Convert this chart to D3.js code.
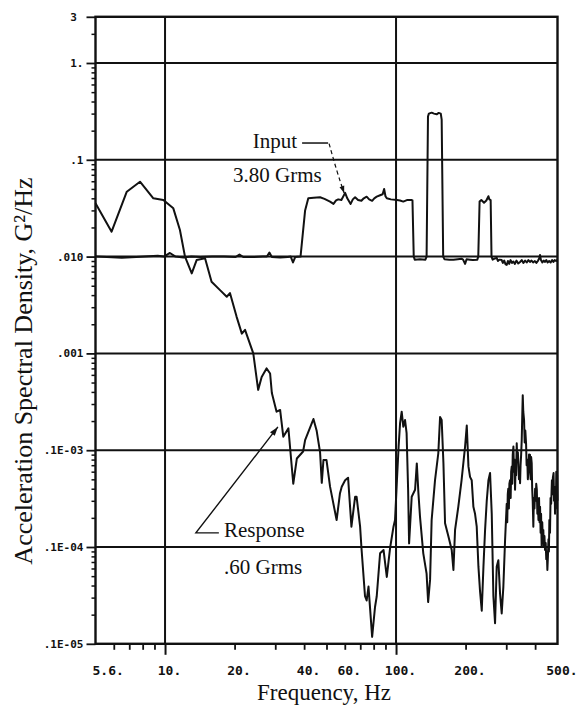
<!DOCTYPE html>
<html><head><meta charset="utf-8">
<script src="https://cdn.jsdelivr.net/npm/d3@7"></script>
<style>body{margin:0;background:#fff}svg{display:block}</style>
</head><body>
<svg id="chart" width="577" height="721"></svg>
<script>
// ---------- data ----------
const xMajorTicks = [5, 10, 20, 40, 60, 100, 200, 500];
const xTickLabels = ["5.6.", "10.", "20.", "40.", "60.", "100.", "200.", "500."];
const xMinorTicks = [6, 7, 8, 9, 20, 30, 40, 50, 60, 70, 80, 90, 200, 300, 400];
const xGridValues = [10, 100];
const yTicks = [3, 1, 0.1, 0.01, 0.001, 1e-4, 1e-5, 1e-6];
const yTickLabels = ["3\u00a0", "1.", ".1", ".010", ".001", ".1E-03", ".1E-04", ".1E-05"];
const yGridValues = [1, 0.1, 0.01, 0.001, 1e-4, 1e-5];
const xTitle = "Frequency, Hz";
const yTitle = "Acceleration Spectral Density, G\u00b2/Hz";

// Input (control) spectrum: [frequency Hz, PSD G^2/Hz]
const inputSeries = [
[5.0,0.0100],[5.6,0.0099],[6.5,0.0097],[7.5,0.0099],[8.5,0.0101],[9.3,0.0102],[9.9,0.0100],[10.5,0.0109],[11.1,0.0100],
[12.0,0.0098],[13.0,0.0100],[14.2,0.0099],[16.0,0.0100],[18.0,0.0100],[20.2,0.0099],[21.0,0.0105],[21.8,0.0099],[24.0,0.0099],
[26.5,0.0100],[27.6,0.0100],[28.3,0.0110],[29.0,0.0099],[31.5,0.0098],[34.0,0.0099],[35.0,0.0100],[35.8,0.0087],[36.6,0.0099],
[38.6,0.0100],[40.4,0.0300],[41.7,0.0400],[44.0,0.0405],[46.9,0.0410],[49.0,0.0395],[51.8,0.0370],[53.6,0.0350],[55.0,0.0380],
[56.2,0.0390],[58.0,0.0385],[60.2,0.0455],[61.5,0.0400],[63.6,0.0350],[65.0,0.0390],[66.5,0.0410],[68.5,0.0385],[70.8,0.0377],
[72.5,0.0400],[74.6,0.0416],[76.5,0.0390],[78.8,0.0377],[80.5,0.0400],[82.5,0.0416],[85.3,0.0430],[87.5,0.0440],[88.8,0.0500],
[90.0,0.0420],[91.2,0.0400],[95.0,0.0390],[100.9,0.0384],[104.0,0.0380],[107.5,0.0370],[112.0,0.0385],[116.9,0.0384],[117.8,0.0380],
[119.3,0.0100],[120.5,0.0093],[127.0,0.0094],[134.0,0.0093],[135.6,0.0100],[137.5,0.2800],[138.7,0.3000],[142.6,0.3070],[146.0,0.3000],
[149.9,0.2950],[153.0,0.3050],[156.2,0.3000],[157.6,0.2600],[160.0,0.0100],[162.0,0.0094],[170.0,0.0093],[177.2,0.0093],[185.0,0.0094],
[192.0,0.0095],[195.1,0.0093],[199.0,0.0084],[202.0,0.0094],[209.1,0.0093],[215.0,0.0092],[224.8,0.0093],[227.0,0.0100],[230.0,0.0370],
[234.0,0.0384],[240.4,0.0360],[246.0,0.0380],[251.2,0.0420],[253.5,0.0390],[256.8,0.0384],[259.0,0.0100],[262.0,0.0093],[266.0,0.0095],
[272.8,0.0097],[276.0,0.0090],[280.0,0.0093],[286.7,0.0092],[290.0,0.0086],[294.0,0.0091],[298.0,0.0083],[301.4,0.0082],[305.0,0.0090],
[309.0,0.0084],[313.0,0.0092],[318.0,0.0086],[322.2,0.0089],[327.0,0.0084],[332.0,0.0091],[338.0,0.0085],[344.3,0.0088],[350.0,0.0092],
[356.0,0.0086],[362.0,0.0091],[368.0,0.0087],[374.0,0.0092],[380.0,0.0088],[386.0,0.0091],[392.0,0.0087],[399.0,0.0090],[405.0,0.0086],
[412.0,0.0091],[417.0,0.0096],[420.0,0.0104],[424.0,0.0092],[430.0,0.0087],[436.0,0.0091],[441.0,0.0088],[447.0,0.0092],[453.0,0.0087],
[460.0,0.0090],[467.0,0.0087],[474.0,0.0092],[480.0,0.0088],[486.0,0.0092],[493.0,0.0090],[500.0,0.0093]
];

// Response spectrum: [frequency Hz, PSD G^2/Hz]
const responseSeries = [
[5.0,0.0355],[5.87,0.0181],[6.83,0.0468],[7.79,0.0594],[8.9,0.040],[9.83,0.0384],[10.86,0.0315],[11.6,0.0188],[12.2,0.0100],
[13.05,0.0067],[13.7,0.0092],[14.9,0.0096],[15.9,0.0055],[17.3,0.0045],[18.5,0.00385],[19.1,0.0042],[20.4,0.0024],[21.5,0.0016],
[22.2,0.00175],[24.1,0.0010],[25.3,0.00042],[26.2,0.00057],[27.5,0.00070],[28.5,0.00062],[29.0,0.00039],[30.4,0.00025],[31.5,0.00026],
[32.5,0.000138],[34.2,0.000168],[35.9,0.000045],[37.2,0.000082],[39.6,0.000097],[40.4,0.000127],[43.2,0.00019],[43.9,0.00021],
[45.3,0.00016],[46.9,0.000095],[47.7,0.000046],[48.5,0.000079],[50.0,0.000079],[51.8,0.000042],[55.3,0.000019],[57.2,0.000036],
[58.2,0.000042],[60.2,0.000049],[62.0,0.000052],[64.1,0.0000162],[66.5,0.000033],[67.5,0.000033],[69.9,0.0000162],[70.8,0.000010],
[73.4,0.0000031],[74.6,0.0000028],[76.0,0.0000039],[78.8,0.00000118],[81.1,0.0000024],[82.5,0.0000031],[85.3,0.0000086],
[88.3,0.0000093],[91.2,0.0000049],[94.2,0.0000097],[97.5,0.0000162],[99.0,0.000019],[100.9,0.000049],[102.6,0.000109],[104.1,0.00019],
[105.8,0.00025],[107.5,0.000175],[109.4,0.000205],[111.1,0.00015],[112.8,0.000039],[113.9,0.0000109],[116.9,0.000033],[120.9,0.000039],
[123.0,0.000073],[125.0,0.000036],[127.0,0.0000205],[131.2,0.0000086],[135.6,0.0000053],[137.7,0.0000027],[140.4,0.0000046],
[142.6,0.000019],[147.5,0.000049],[152.4,0.000093],[155.1,0.00022],[157.6,0.000205],[160.4,0.000073],[163.0,0.0000176],
[168.6,0.0000128],[174.2,0.0000093],[177.2,0.0000058],[180.1,0.000015],[186.0,0.000026],[192.2,0.000049],[199.0,0.000109],
[202.4,0.00018],[205.8,0.000068],[209.1,0.000053],[212.6,0.000049],[216.2,0.000026],[219.8,0.000022],[223.5,0.0000162],
[227.3,0.0000063],[231.0,0.0000035],[235.0,0.0000022],[239.0,0.0000063],[242.9,0.000015],[247.0,0.000030],[251.2,0.000049],
[255.3,0.000058],[259.6,0.000022],[263.9,0.0000031],[268.3,0.00000163],[272.8,0.0000063],[277.3,0.0000073],[282.0,0.0000033],
[286.7,0.00000206],[291.5,0.0000039],[296.5,0.0000118],[301.4,0.000028],[303,0.000018],[304.5,0.000035],[306,0.000040],[308,0.000025],
[309.5,0.000045],[311.6,0.000049],[313.5,0.000032],[315,0.000060],[316.9,0.000068],[318.5,0.000045],[320,0.00009],[322.2,0.000109],
[324,0.00006],[325.5,0.000080],[327.5,0.000039],[329.5,0.00007],[331,0.000055],[333.0,0.000118],[335,0.00008],[336.8,0.000095],
[338.6,0.000073],[340.5,0.00005],[342.3,0.000065],[344.3,0.0000455],[346,0.00007],[348,0.00009],[350.0,0.000127],[351.8,0.00022],
[353.6,0.00037],[355.5,0.00025],[358.3,0.000205],[360.5,0.00012],[362.8,0.00016],[365.5,0.000118],[367.5,0.00007],[370,0.00008],
[372,0.00005],[374.0,0.000058],[376.5,0.00009],[378.5,0.00006],[380,0.00009],[382.5,0.00005],[384.5,0.000085],[386.7,0.000073],
[388.5,0.00004],[390.5,0.00003],[393.0,0.0000162],[395,0.000032],[397.5,0.000025],[400,0.00004],[402.5,0.00003],[404.5,0.000045],
[406.9,0.000039],[409,0.000022],[411,0.00003],[413.5,0.000019],[416,0.000032],[418,0.000018],[420.2,0.000026],[422.5,0.000014],
[424.5,0.000022],[427.0,0.000010],[429.5,0.000018],[431.8,0.000012],[434.1,0.000015],[436.5,0.00001],[439,0.000013],[441.6,0.0000093],
[444.5,0.000011],[447,0.0000075],[449.5,0.000009],[452.0,0.0000058],[454.5,0.000008],[457,0.000012],[459,0.000009],[461.0,0.000019],
[464,0.000014],[466.5,0.000032],[469.5,0.000028],[472.9,0.000049],[475,0.000035],[477.5,0.000052],[480.8,0.000058],[483,0.00003],
[485.5,0.000042],[487.9,0.000022],[490,0.000035],[492,0.000025],[494,0.00006],[496,0.00004],[498,0.000055],[500,0.00003]
];

// Annotations (positions in data coordinates: [Hz, G^2/Hz])
const inputLabel = {text: "Input", at: [24.0, 0.132]};
const inputRms = {text: "3.80 Grms", at: [19.7, 0.059]};
const inputDash = [[39.2, 0.149], [50.8, 0.149]];
const inputLeader = [[51.3, 0.147], [55.5, 0.075], [59.6, 0.0454]];
const responseLabel = {text: "Response", at: [18.0, 1.27e-5]};
const responseRms = {text: ".60 Grms", at: [18.0, 5.26e-6]};
const responseLeader = [[17.1, 1.40e-5], [13.6, 1.40e-5], [30.8, 1.74e-4]];

// ---------- drawing ----------
const svg = d3.select("#chart");
const x = d3.scaleLog().domain([5, 500]).range([95.5, 557.5]);
const y = d3.scaleLog().domain([1e-6, 3]).range([643.8, 16.8]);
const [x0, x1] = x.range();
const [yb, yt] = y.range();
const ink = "#111";

// gridlines
svg.append("g").selectAll("line").data(yGridValues).join("line")
  .attr("x1", x0).attr("x2", x1).attr("y1", d => y(d)).attr("y2", d => y(d))
  .attr("stroke", ink).attr("stroke-width", 2);
svg.append("g").selectAll("line").data(xGridValues).join("line")
  .attr("x1", d => x(d)).attr("x2", d => x(d)).attr("y1", yt).attr("y2", yb)
  .attr("stroke", ink).attr("stroke-width", 2);

// bottom axis ticks
const xMinorAxis = d3.axisBottom(x).tickValues(xMinorTicks).tickSize(6).tickFormat("");
svg.append("g").attr("transform", `translate(0,${yb})`).call(xMinorAxis)
  .call(g => g.select(".domain").remove())
  .call(g => g.selectAll("line").attr("stroke", ink).attr("stroke-width", 1.8));
const xMajorAxis = d3.axisBottom(x).tickValues(xGridValues).tickSize(11).tickFormat("");
svg.append("g").attr("transform", `translate(0,${yb})`).call(xMajorAxis)
  .call(g => g.select(".domain").remove())
  .call(g => g.selectAll("line").attr("stroke", ink).attr("stroke-width", 2));

// bottom tick labels
const xLabelAxis = d3.axisBottom(x).tickValues(xMajorTicks).tickSize(0).tickPadding(0)
  .tickFormat((d, i) => xTickLabels[i]);
const xl = svg.append("g").attr("transform", `translate(0,${yb})`).call(xLabelAxis);
xl.select(".domain").remove();
xl.selectAll("text")
  .attr("font-family", "'DejaVu Sans Mono', monospace").attr("font-weight", "bold")
  .attr("font-size", 13).attr("fill", ink)
  .attr("text-anchor", "start").attr("dy", null).attr("y", 31)
  .attr("x", (d, i) => i === 0 ? -3.5 : -(xTickLabels[i].length - 1) * 13 * 0.602 / 2);

// left minor ticks
const yMinor = [];
for (let e = -6; e <= 0; e++) for (let m = 2; m <= 9; m++) { const v = m * Math.pow(10, e); if (v < 3) yMinor.push(v); }
const yMinorAxis = d3.axisLeft(y).tickValues(yMinor).tickSize(4).tickFormat("");
svg.append("g").attr("transform", `translate(${x0},0)`).call(yMinorAxis)
  .call(g => g.select(".domain").remove())
  .call(g => g.selectAll("line").attr("stroke", ink).attr("stroke-width", 1.5));
const yMajorAxis = d3.axisLeft(y).tickValues(yTicks).tickSize(9).tickPadding(3)
  .tickFormat((d, i) => yTickLabels[i]);
const yl = svg.append("g").attr("transform", `translate(${x0},0)`).call(yMajorAxis);
yl.select(".domain").remove();
yl.selectAll("line").attr("stroke", ink).attr("stroke-width", 1.8);
yl.selectAll("text")
  .attr("font-family", "'DejaVu Sans Mono', monospace").attr("font-weight", "bold")
  .attr("font-size", 11).attr("fill", ink);

// frame
svg.append("rect").attr("x", x0).attr("y", yt).attr("width", x1 - x0).attr("height", yb - yt)
  .attr("fill", "none").attr("stroke", ink).attr("stroke-width", 2.4);

// series
const line = d3.line().x(d => x(d[0])).y(d => y(d[1]));
svg.append("path").datum(inputSeries).attr("d", line)
  .attr("fill", "none").attr("stroke", ink).attr("stroke-width", 2).attr("stroke-linejoin", "round");
svg.append("path").datum(responseSeries).attr("d", line)
  .attr("fill", "none").attr("stroke", ink).attr("stroke-width", 2).attr("stroke-linejoin", "round");

// annotations
const serif = "'Liberation Serif', 'Times New Roman', serif";
[inputLabel, inputRms, responseLabel, responseRms].forEach(a => {
  svg.append("text").attr("x", x(a.at[0])).attr("y", y(a.at[1]))
    .attr("font-family", serif).attr("font-size", 21).attr("fill", ink).text(a.text);
});
svg.append("path").datum(inputDash).attr("d", line).attr("fill", "none")
  .attr("stroke", ink).attr("stroke-width", 1.5);
const curve = d3.line().x(d => x(d[0])).y(d => y(d[1])).curve(d3.curveBasis);
svg.append("path").datum(inputLeader).attr("d", curve).attr("fill", "none")
  .attr("stroke", ink).attr("stroke-width", 1.2).attr("stroke-dasharray", "4,3");
svg.append("path").datum(responseLeader).attr("d", line).attr("fill", "none")
  .attr("stroke", ink).attr("stroke-width", 1.4);

function arrowHead(tip, from, len, half) {
  const tx = x(tip[0]), ty = y(tip[1]), fx = x(from[0]), fy = y(from[1]);
  const a = Math.atan2(ty - fy, tx - fx);
  const bx = tx - len * Math.cos(a), by = ty - len * Math.sin(a);
  const px = -Math.sin(a) * half, py = Math.cos(a) * half;
  svg.append("path").attr("d", `M${tx},${ty}L${bx + px},${by + py}L${bx - px},${by - py}Z`).attr("fill", ink);
}
arrowHead(responseLeader[2], responseLeader[1], 9, 3);
arrowHead(inputLeader[2], inputLeader[1], 7, 2.5);

// axis titles
svg.append("text").attr("x", 324).attr("y", 700).attr("text-anchor", "middle")
  .attr("font-family", serif).attr("font-size", 23).attr("fill", ink).text(xTitle);
svg.append("text").attr("transform", "translate(32,371) rotate(-90)").attr("text-anchor", "middle")
  .attr("font-family", serif).attr("font-size", 26).attr("fill", ink).text(yTitle);
</script>
</body></html>
